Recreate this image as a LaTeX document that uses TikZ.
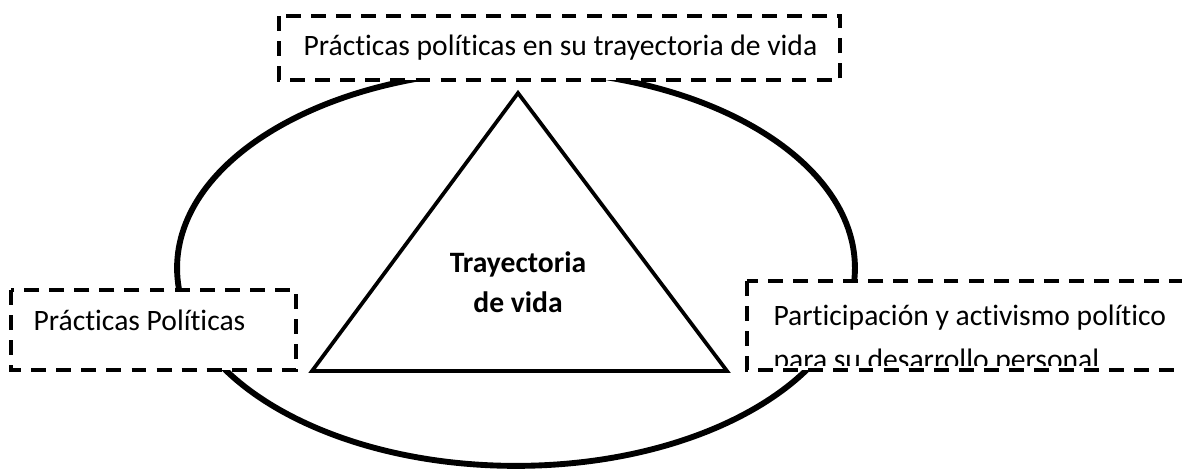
\documentclass[tikz,border=0pt]{standalone}
\usepackage{fontspec}
\setmainfont[Ligatures=NoCommon]{Carlito}
\usetikzlibrary{positioning}

\begin{document}
\begin{tikzpicture}[
      x=0.375pt,y=-0.375pt,
      dashbox/.style={
         rectangle,
         draw=black,
         fill=white,
         line width=1.8pt,
         dash pattern=on 5.6pt off 3.8pt,
         inner sep=0pt},
      boxtext/.style={
         inner sep=0pt,
         align=left,
         font=\fontsize{11.1}{16.5}\selectfont},
      maintext/.style={
         inner sep=0pt,
         align=center,
         font=\fontsize{11.1}{15}\selectfont\bfseries}
      ]
      \useasboundingbox (0,0) rectangle (1182,469);
      \clip (0,0) rectangle (1182,469);
      % ellipse and triangle
      \draw[line width=2.2pt] (516,268) ellipse [x radius=127.1pt, y radius=74.2pt];
      \coordinate (apex) at (518,93);
      \coordinate (bl) at (312,371);
      \coordinate (br) at (727,371);
      \draw[line width=1.4pt,fill=white] (apex) -- (bl) -- (br) -- cycle;
      \node[maintext] (tray) at (518,282) {Trayectoria\\de vida};
      % boxes
      \draw[dashbox] (279,16) rectangle (840,80);
      \node[boxtext,anchor=base west] (top) at (303,55) {Prácticas políticas en su trayectoria de vida};
      \draw[dashbox] (11,290) rectangle (296,370);
      \node[boxtext,anchor=base west] (left) at (33,330) {Prácticas Políticas};
      \draw[dashbox] (747,281) rectangle (1240,370);
      \begin{scope}
        \clip (747,281) rectangle (1182,365);
        \node[boxtext,anchor=north west] (right) at (773,304) {Participación y activismo político\\para su desarrollo personal};
      \end{scope}
\end{tikzpicture}
\end{document}
